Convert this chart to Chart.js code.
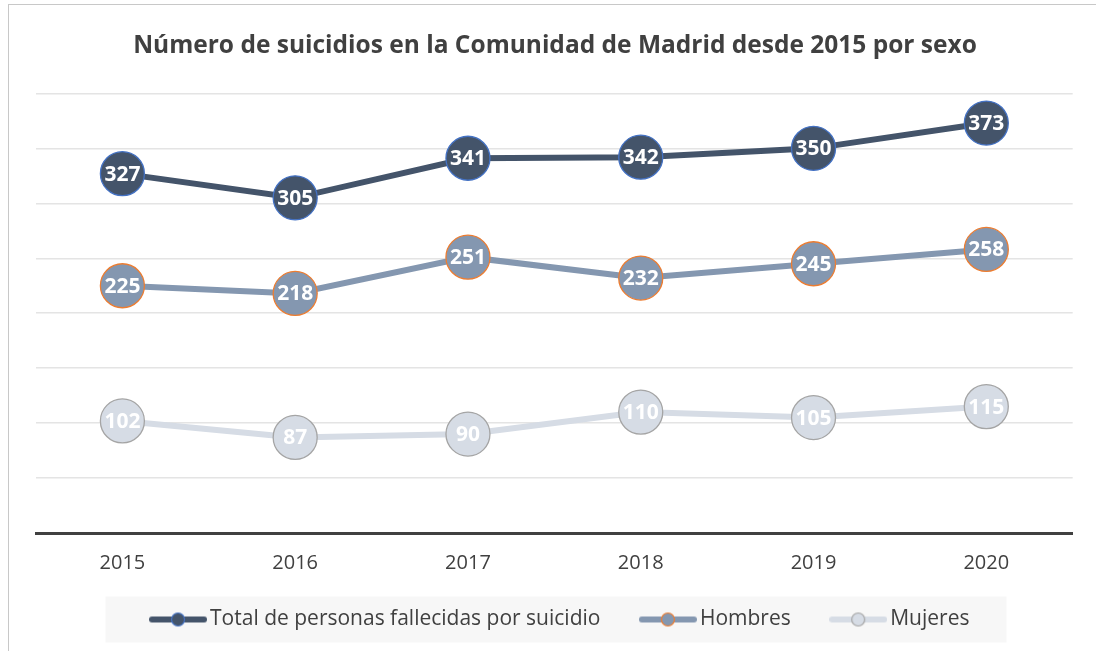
<!DOCTYPE html>
<html lang="es">
<head>
<meta charset="UTF-8" />
<title>Suicidios Comunidad de Madrid</title>
<style>
  * { margin: 0; padding: 0; }
  body { background: #fff; overflow: hidden; }
  .frame {
    position: absolute; left: 8px; top: 4px; width: 1100px; height: 660px;
    border-left: 1.5px solid #c8c8c8; border-top: 1.5px solid #c8c8c8;
  }
  .chartBox { position: absolute; left: 0; top: 0; width: 1096px; height: 651px; }
</style>
</head>
<body>
<div class="frame"></div>
<div class="chartBox"><canvas id="myChart"></canvas></div>

<script src="https://cdn.jsdelivr.net/npm/chart.js"></script>
<script>
// data block
const years = ["2015", "2016", "2017", "2018", "2019", "2020"];
const totalValues = [327, 305, 341, 342, 350, 373];
const hombresValues = [225, 218, 251, 232, 245, 258];
const mujeresValues = [102, 87, 90, 110, 105, 115];

const textColor = "#404040";
Chart.defaults.font.family = "'Open Sans', sans-serif";
Chart.defaults.color = textColor;

// legend marker: line with a dot in the middle
function legendMarker(lineColor, border) {
  const c = document.createElement("canvas");
  c.width = 58; c.height = 16;
  const g = c.getContext("2d");
  g.strokeStyle = lineColor; g.lineWidth = 6; g.lineCap = "round";
  g.beginPath(); g.moveTo(3, 8); g.lineTo(55, 8); g.stroke();
  g.beginPath(); g.arc(29, 8, 6.5, 0, Math.PI * 2);
  g.fillStyle = lineColor; g.fill();
  g.lineWidth = 1.2; g.strokeStyle = border; g.stroke();
  return c;
}

function series(label, values, lineColor, border) {
  return {
    label,
    data: values,
    borderColor: lineColor,
    backgroundColor: lineColor,
    borderWidth: 6,
    pointRadius: 22,
    pointHoverRadius: 22,
    pointBackgroundColor: lineColor,
    pointBorderColor: border,
    pointBorderWidth: 1.3,
    pointStyle: "circle",
    tension: 0,
    marker: legendMarker(lineColor, border)
  };
}

const data = {
  labels: years,
  datasets: [
    series("Total de personas fallecidas por suicidio", totalValues, "#44546a", "#4472c4"),
    series("Hombres", hombresValues, "#8497b0", "#ed7d31"),
    series("Mujeres", mujeresValues, "#d6dce5", "#a5a5a5")
  ]
};

// value labels inside the points
const pointLabels = {
  id: "pointLabels",
  afterDatasetsDraw(chart) {
    const { ctx } = chart;
    ctx.save();
    ctx.font = "bold 21px 'Open Sans', sans-serif";
    ctx.fillStyle = "#ffffff";
    ctx.textAlign = "center";
    ctx.textBaseline = "middle";
    chart.data.datasets.forEach((ds, i) => {
      chart.getDatasetMeta(i).data.forEach((pt, j) => {
        ctx.fillText(ds.data[j], pt.x, pt.y + 1);
      });
    });
    ctx.restore();
  }
};

// legend is squeezed in the layout (maxHeight) and moved back up here,
// plus a light grey box behind it
const legendBg = {
  id: "legendBg",
  afterUpdate(chart) {
    const lg = chart.legend;
    const dx = 8, dy = -30;
    lg.left += dx; lg.right += dx;
    lg.top += dy;
    (lg.legendHitBoxes || []).forEach(b => { b.left += dx; b.top += dy; });
  },
  beforeDraw(chart) {
    const boxes = chart.legend.legendHitBoxes;
    if (!boxes || !boxes.length) return;
    const left = Math.min(...boxes.map(b => b.left)) - 51;
    const right = Math.max(...boxes.map(b => b.left + b.width)) + 37;
    const mid = boxes[0].top + boxes[0].height / 2;
    const { ctx } = chart;
    ctx.save();
    ctx.fillStyle = "#f7f7f7";
    ctx.fillRect(left, mid - 23, right - left, 46);
    ctx.restore();
  }
};

const config = {
  type: "line",
  data,
  options: {
    responsive: true,
    maintainAspectRatio: false,
    animation: false,
    layout: { padding: { left: 36, right: 22, top: 22, bottom: 12 } },
    plugins: {
      title: {
        display: true,
        text: "Número de suicidios en la Comunidad de Madrid desde 2015 por sexo",
        color: textColor,
        font: { size: 24.5, weight: "bold" },
        padding: { top: 9, bottom: 33 }
      },
      legend: {
        position: "bottom",
        maxHeight: 46,
        labels: {
          usePointStyle: true,
          pointStyleWidth: 43,
          padding: 46,
          color: textColor,
          font: { size: 21 },
          generateLabels(chart) {
            const items = Chart.defaults.plugins.legend.labels.generateLabels(chart);
            items.forEach(it => { it.pointStyle = chart.data.datasets[it.datasetIndex].marker; });
            return items;
          }
        }
      },
      tooltip: { enabled: false }
    },
    scales: {
      x: {
        offset: true,
        grid: { display: false, drawTicks: false },
        border: { display: true, color: "#404040", width: 3 },
        ticks: { color: textColor, font: { size: 20 }, padding: 18 }
      },
      y: {
        min: 0,
        max: 400,
        ticks: { display: false, stepSize: 50 },
        grid: { color: "#e4e4e4", lineWidth: 1.5, drawTicks: false },
        border: { display: false }
      }
    }
  },
  plugins: [pointLabels, legendBg]
};

const myChart = new Chart(document.getElementById("myChart"), config);
</script>
</body>
</html>
